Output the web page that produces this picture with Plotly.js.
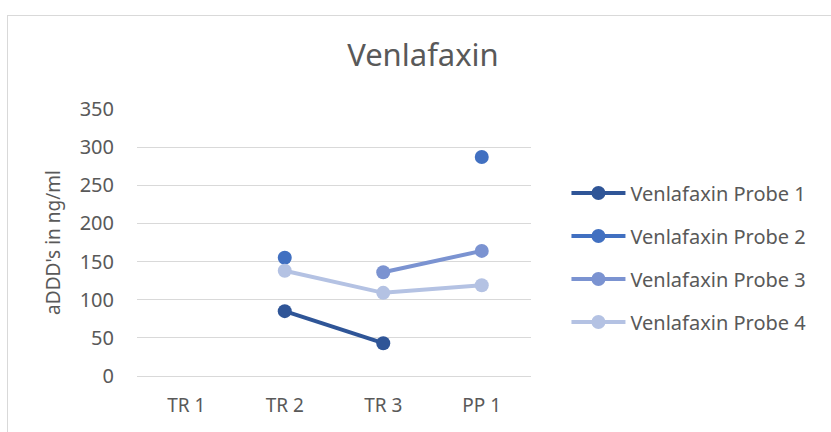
<!DOCTYPE html>
<html><head><meta charset="utf-8">
<script src="https://cdn.plot.ly/plotly-3.0.1.min.js"></script>
<style>
html,body{margin:0;padding:0;background:#fff;overflow:hidden;}
#frame{position:absolute;left:7px;top:15px;width:840px;height:430px;border:1px solid #d9d9d9;box-sizing:border-box;}
#chart{position:absolute;left:0;top:0;width:831px;height:432px;}
</style></head>
<body>
<div id="frame"></div>
<div id="chart"></div>
<script>
const categories = ["TR 1", "TR 2", "TR 3", "PP 1"];
const seriesNames = ["Venlafaxin Probe 1", "Venlafaxin Probe 2", "Venlafaxin Probe 3", "Venlafaxin Probe 4"];
const probe1 = [null, 85, 43, null];
const probe2 = [null, 155, null, 287];
const probe3 = [null, null, 136, 164];
const probe4 = [null, 138, 109, 119];
const colors = ["#2f5597", "#4170c1", "#7b93d1", "#b4c2e3"];
const yTicks = [0, 50, 100, 150, 200, 250, 300, 350];

const allValues = [probe1, probe2, probe3, probe4];
const traces = allValues.map((v, i) => ({
  x: categories, y: v, name: seriesNames[i], type: "scatter", mode: "lines+markers",
  connectgaps: false, legendgroup: "g" + i,
  line: {color: colors[i], width: 4},
  marker: {color: colors[i], size: 14}
}));

const layout = {
  width: 831, height: 432,
  margin: {l: 137, r: 300, t: 109, b: 56},
  paper_bgcolor: "rgba(0,0,0,0)", plot_bgcolor: "rgba(0,0,0,0)",
  font: {family: "'Noto Sans', sans-serif", color: "#595959", size: 20},
  title: {text: "Venlafaxin", x: 0.509, xanchor: "center", y: 0.873, yanchor: "middle",
          font: {size: 31, color: "#595959"}},
  xaxis: {type: "category", range: [-0.5, 3.5], showgrid: false, zeroline: false,
          showline: false, ticks: "", tickfont: {size: 19, color: "#595959"}, ticklabelstandoff: 16, fixedrange: true},
  yaxis: {range: [0, 350], tickvals: yTicks, showgrid: true, gridcolor: "#d9d9d9", gridwidth: 1,
          zeroline: true, zerolinecolor: "#d9d9d9", zerolinewidth: 1, showline: false, ticks: "",
          tickfont: {size: 20, color: "#595959"}, ticklabelstandoff: 22,
          title: {text: "aDDD's in ng/ml", font: {size: 19, color: "#595959"}, standoff: 14}},
  showlegend: true,
  legend: {x: 1.09, xanchor: "left", y: 0.444, yanchor: "middle", font: {size: 20, color: "#595959"},
           itemwidth: 54, traceorder: "grouped", tracegroupgap: 14, bgcolor: "rgba(0,0,0,0)"}
};
Plotly.newPlot("chart", traces, layout, {displayModeBar: false, staticPlot: true});
</script>
</body></html>
